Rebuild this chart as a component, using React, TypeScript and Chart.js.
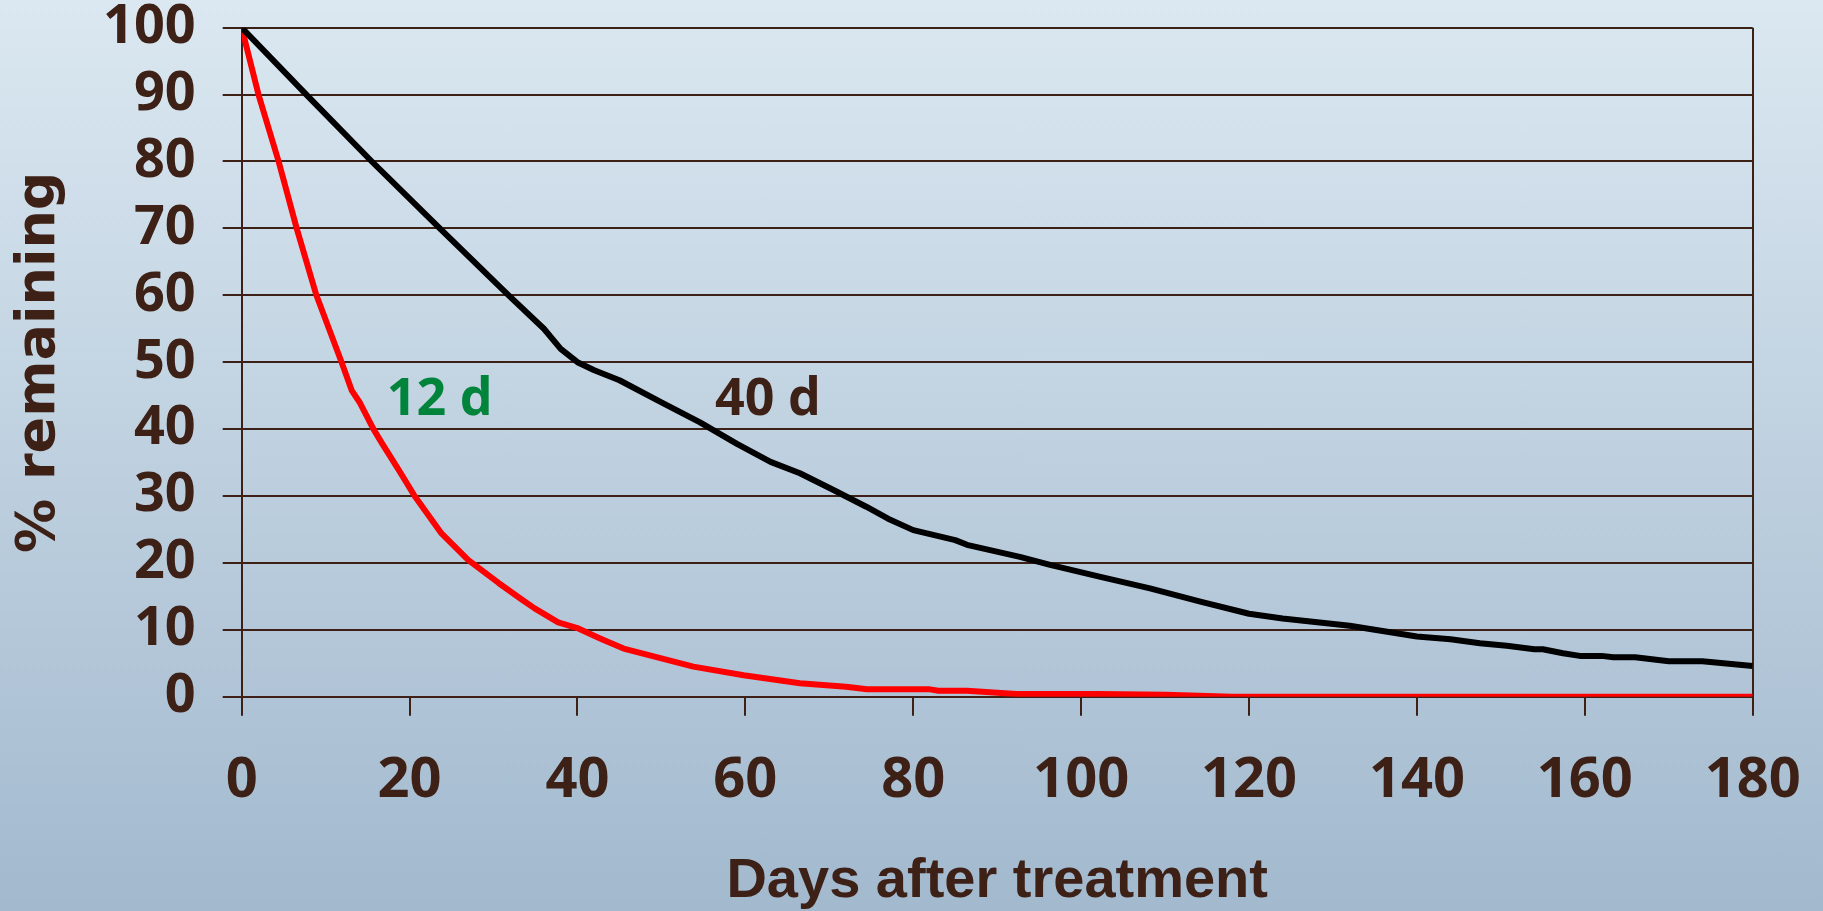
import React, { useEffect, useRef } from "react";
import { Chart, registerables } from "chart.js";

Chart.register(...registerables);

// ---- data ----
const xTicks = [0, 20, 40, 60, 80, 100, 120, 140, 160, 180];
const yTicks = [0, 10, 20, 30, 40, 50, 60, 70, 80, 90, 100];

const days40 = [0, 7.7, 15.5, 23.6, 31.8, 36, 38, 40, 42, 45, 50, 54.6, 59, 63, 66.5, 70.5, 74.4, 77, 80, 85, 86.4, 92.7, 96.3, 102.3, 108.2, 114.2, 120, 124, 132, 140, 144, 147.5, 150.7, 154, 155, 157.4, 159.4, 162, 163.4, 166, 170, 174, 180];
const values40 = [100, 90, 80, 70, 60, 55, 52, 50, 48.8, 47.3, 44, 41, 37.8, 35.1, 33.4, 30.9, 28.4, 26.6, 24.9, 23.4, 22.7, 20.9, 19.7, 17.9, 16.2, 14.2, 12.4, 11.7, 10.6, 9.0, 8.6, 8.0, 7.6, 7.1, 7.1, 6.5, 6.1, 6.1, 5.9, 5.9, 5.3, 5.3, 4.6];

const days12 = [0, 2, 4.4, 6.55, 8.9, 11.9, 13.1, 14.1, 15.7, 16.7, 18.7, 20.6, 23.8, 27, 30.6, 33.4, 34.9, 37.7, 40.1, 42.9, 45.5, 47, 53.8, 59.8, 66.5, 72, 74.5, 82, 83, 86.4, 92.3, 102, 110, 118, 180];
const values12 = [100, 90, 80, 70, 60, 50, 45.8, 43.9, 40, 37.9, 33.9, 30, 24.4, 20.4, 17, 14.5, 13.2, 11.1, 10.2, 8.6, 7.2, 6.7, 4.5, 3.2, 2.0, 1.5, 1.1, 1.1, 0.9, 0.9, 0.4, 0.4, 0.3, 0, 0];

const labels = [
  { text: "12 d", x: 23.6, y: 44.3, color: "#00843c" },
  { text: "40 d", x: 62.7, y: 44.3, color: "#3d2117" },
];

const BROWN = "#3d2117";

export default function App() {
  const ref = useRef<HTMLCanvasElement | null>(null);

  useEffect(() => {
    if (!ref.current) return;
    const annot = {
      id: "annot",
      afterDatasetsDraw(chart: any) {
        const { ctx, scales } = chart;
        ctx.save();
        ctx.font = "bold 52px 'Open Sans'";
        ctx.textAlign = "center";
        ctx.textBaseline = "middle";
        for (const l of labels) {
          ctx.fillStyle = l.color;
          ctx.fillText(l.text, scales.x.getPixelForValue(l.x), scales.y.getPixelForValue(l.y));
        }
        ctx.restore();
      },
    };
    const chart = new Chart(ref.current, {
      type: "line",
      data: {
        datasets: [
          {
            label: "40 d",
            data: days40.map((d, i) => ({ x: d, y: values40[i] })),
            borderColor: "#000000",
            borderWidth: 6,
            pointRadius: 0,
            tension: 0,
            borderJoinStyle: "round",
          },
          {
            label: "12 d",
            data: days12.map((d, i) => ({ x: d, y: values12[i] })),
            borderColor: "#ff0000",
            borderWidth: 6,
            pointRadius: 0,
            tension: 0,
            borderJoinStyle: "round",
          },
        ],
      },
      options: {
        animation: false,
        responsive: false,
        devicePixelRatio: 1,
        layout: { padding: { top: 27.7, right: 70.3, left: 0, bottom: 0 } },
        plugins: { legend: { display: false }, tooltip: { enabled: false } },
        scales: {
          x: {
            type: "linear",
            min: 0,
            max: 180,
            afterBuildTicks: (s: any) => {
              s.ticks = xTicks.map((v) => ({ value: v }));
            },
            afterFit: (s: any) => {
              s.height = 214.3;
              s.paddingLeft = 0;
              s.paddingRight = 0;
            },
            ticks: {
              color: BROWN,
              font: { family: "'Open Sans'", weight: "bold", size: 56, lineHeight: 1.2 },
              padding: 32,
              maxRotation: 0,
              autoSkip: false,
            },
            grid: {
              color: (c: any) => (c.tick && (c.tick.value === 180 || c.tick.value === 0) ? BROWN : "rgba(0,0,0,0)"),
              tickColor: BROWN,
              lineWidth: 2,
              tickLength: 19,
            },
            border: { display: true, color: BROWN, width: 2 },
            title: {
              display: true,
              text: "Days after treatment",
              color: BROWN,
              font: { family: "'Liberation Sans'", weight: "bold", size: 56, lineHeight: 1.05 },
              padding: { top: 0, bottom: 0 },
            },
          },
          y: {
            min: 0,
            max: 100,
            afterBuildTicks: (s: any) => {
              s.ticks = yTicks.map((v) => ({ value: v }));
            },
            afterFit: (s: any) => {
              s.width = 241.7;
              s.paddingTop = 0;
              s.paddingBottom = 0;
            },
            ticks: {
              color: BROWN,
              font: { family: "'Open Sans'", weight: "bold", size: 54, lineHeight: 1.0 },
              padding: 27,
            },
            grid: { color: BROWN, lineWidth: 2, tickLength: 19, tickColor: BROWN },
            border: { display: true, color: BROWN, width: 2 },
            title: {
              display: true,
              text: "% remaining",
              color: BROWN,
              font: { family: "'DejaVu Sans'", weight: "bold", size: 54, lineHeight: 1.2 },
              padding: { top: 8, bottom: 0 },
            },
          },
        },
      },
      plugins: [annot],
    } as any);
    return () => chart.destroy();
  }, []);

  return (
    <div
      style={{
        position: "fixed",
        left: 0,
        top: 0,
        width: 1823,
        height: 911,
        background: "linear-gradient(to bottom, #dbe8f1, #a2b9ce)",
      }}
    >
      <canvas ref={ref} width={1823} height={911} style={{ display: "block", width: 1823, height: 911 }} />
    </div>
  );
}
